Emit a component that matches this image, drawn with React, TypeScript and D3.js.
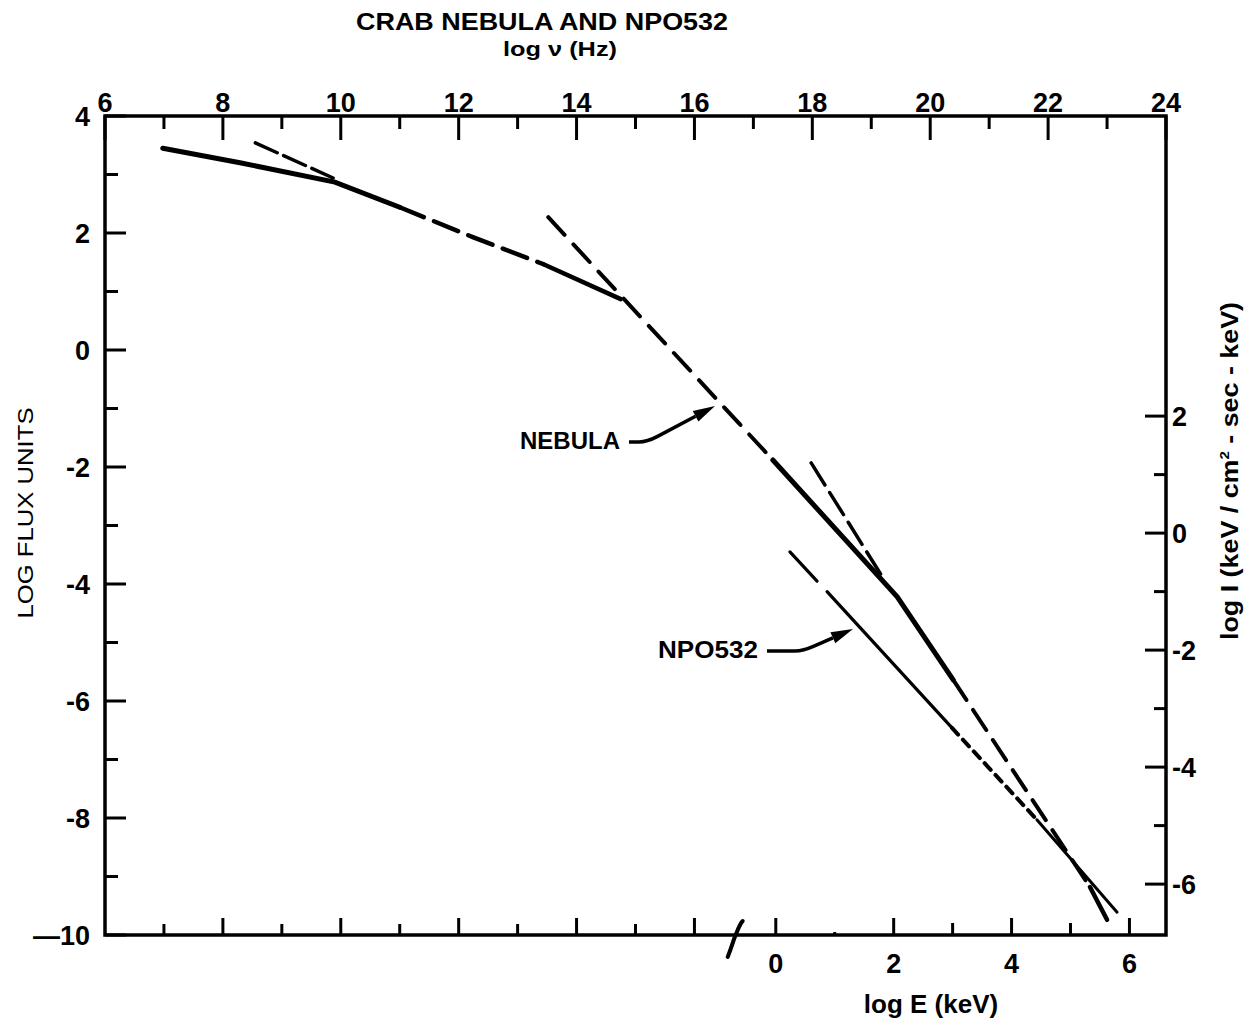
import React from 'react';
import * as d3 from 'd3';

// log nu (Hz) vs log flux units
const radioTangent = [[8.55, 3.54], [9.87, 2.94]];
const opticalSolidA = [[6.98, 3.45], [8.29, 3.2], [9.9, 2.87], [11.0, 2.44]];
const opticalDashed = [[11.0, 2.44], [12.24, 1.93], [13.43, 1.47]];
const opticalSolidB = [[13.43, 1.47], [14.75, 0.87]];
const nebulaUvDashed = [[13.52, 2.27], [17.33, -1.88]];
const nebulaXraySolid = [[17.33, -1.88], [19.44, -4.22], [20.39, -5.64]];
const nebulaGammaDashed = [[20.39, -5.64], [22.71, -9.18]];
const nebulaGammaSolid = [[22.71, -9.18], [23.0, -9.74]];
const nebulaXrayTangent = [[17.98, -1.93], [19.22, -3.93]];
const pulsarSolidA = [[17.62, -3.45], [18.08, -3.95]];
const pulsarSolidB = [[18.25, -4.13], [20.37, -6.46]];
const pulsarDotted = [[20.37, -6.46], [21.81, -8.03]];
const pulsarSolidC = [[21.81, -8.03], [23.17, -9.61]];

const topTicks = d3.range(6, 25, 1);
const leftTicks = d3.range(-10, 5, 1);
const rightTicks = d3.range(-6, 3, 1);
const bottomNuTicks = d3.range(7, 17, 1);
const bottomETicks = d3.range(0, 7, 1);

const KEV_LOG_HZ = 17.38; // log nu of 1 keV
const FLUX_TO_I = 3.13; // log I = log flux + this
const AXIS_BREAK = 16.7; // log nu where the bottom axis is broken

const W = 1251;
const H = 1029;
const FONT = '"Liberation Sans Narrow", "Liberation Sans", Arial, sans-serif';

const x = d3.scaleLinear().domain([6, 24]).range([105, 1166]);
const y = d3.scaleLinear().domain([-10, 4]).range([935, 116]);
const xE = d3.scaleLinear().domain([6 - KEV_LOG_HZ, 24 - KEV_LOG_HZ]).range([105, 1166]);
const yI = d3.scaleLinear().domain([-10 + FLUX_TO_I, 4 + FLUX_TO_I]).range([935, 116]);

const line = d3
  .line<number[]>()
  .x((d) => x(d[0]))
  .y((d) => y(d[1]));

const Arrow = ({ tail, elbow, tip }) => {
  const ang = Math.atan2(tip[1] - elbow[1], tip[0] - elbow[0]);
  const len = 22;
  const half = 6;
  const bx = tip[0] - len * Math.cos(ang);
  const by = tip[1] - len * Math.sin(ang);
  const p1 = [bx + half * Math.sin(ang), by - half * Math.cos(ang)];
  const p2 = [bx - half * Math.sin(ang), by + half * Math.cos(ang)];
  const mx = elbow[0] + 12 * Math.cos(ang);
  const my = elbow[1] + 12 * Math.sin(ang);
  return (
    <g>
      <path
        d={`M${tail[0]},${tail[1]} L${elbow[0] - 8},${elbow[1]} Q${elbow[0]},${elbow[1]} ${mx},${my} L${bx},${by}`}
        fill="none"
        stroke="#000"
        strokeWidth={3.5}
      />
      <path d={`M${tip[0]},${tip[1]} L${p1[0]},${p1[1]} L${p2[0]},${p2[1]} Z`} fill="#000" />
    </g>
  );
};

export default function App() {
  const series = [
    { d: radioTangent, w: 3.5, dash: '24 7' },
    { d: opticalSolidA, w: 5, dash: null },
    { d: opticalDashed, w: 4.5, dash: '26 11' },
    { d: opticalSolidB, w: 4.5, dash: null },
    { d: nebulaUvDashed, w: 4, dash: '24 13' },
    { d: nebulaXraySolid, w: 5, dash: null },
    { d: nebulaGammaDashed, w: 4, dash: '24 12' },
    { d: nebulaGammaSolid, w: 4.5, dash: null },
    { d: nebulaXrayTangent, w: 3.5, dash: '26 9' },
    { d: pulsarSolidA, w: 3.2, dash: null },
    { d: pulsarSolidB, w: 3.2, dash: null },
    { d: pulsarDotted, w: 4, dash: '9 7' },
    { d: pulsarSolidC, w: 3, dash: null },
  ];

  const x0 = x(6);
  const x1 = x(24);
  const y0 = y(-10);
  const y1 = y(4);
  const bx = x(AXIS_BREAK);

  const tickStyle = { stroke: '#000', strokeWidth: 3 };
  const labelStyle = { fontFamily: FONT, fontWeight: 700, fontSize: 27, fill: '#000' };

  return (
    <svg width={W} height={H} style={{ position: 'absolute', left: 0, top: 0, background: '#fff' }}>
      <rect width={W} height={H} fill="#fff" />

      {/* titles */}
      <text x={542} y={30} textAnchor="middle" textLength={372} lengthAdjust="spacingAndGlyphs" style={{ ...labelStyle, fontSize: 23 }}>
        CRAB NEBULA AND NPO532
      </text>
      <text x={560} y={56} textAnchor="middle" textLength={114} lengthAdjust="spacingAndGlyphs" style={{ ...labelStyle, fontSize: 21 }}>
        log ν (Hz)
      </text>

      {/* frame */}
      <path d={`M${x0},${y1} H${x1} V${y0} H${x0} Z`} fill="none" stroke="#000" strokeWidth={3.5} />

      {/* top axis */}
      {topTicks.map((t) => (
        <line key={'t' + t} x1={x(t)} x2={x(t)} y1={y1} y2={y1 + (t % 2 === 0 ? 24 : 13)} {...tickStyle} />
      ))}
      {topTicks
        .filter((t) => t % 2 === 0)
        .map((t) => (
          <text key={'tl' + t} x={x(t)} y={y1 - 4} textAnchor="middle" style={labelStyle}>
            {t}
          </text>
        ))}

      {/* left axis */}
      {leftTicks.map((t) => (
        <line key={'l' + t} x1={x0} x2={x0 + (t % 2 === 0 ? 21 : 13)} y1={y(t)} y2={y(t)} {...tickStyle} />
      ))}
      {leftTicks
        .filter((t) => t % 2 === 0)
        .map((t) => (
          <text key={'ll' + t} x={90} y={y(t)} dy="0.36em" textAnchor="end" style={labelStyle}>
            {t === -10 ? '\u201410' : String(t)}
          </text>
        ))}
      <text
        transform={`translate(33,${513}) rotate(-90)`}
        textAnchor="middle"
        textLength={211}
        lengthAdjust="spacingAndGlyphs"
        style={{ ...labelStyle, fontWeight: 400, fontSize: 22 }}
      >
        LOG FLUX UNITS
      </text>

      {/* right axis */}
      {rightTicks.map((t) => (
        <line key={'r' + t} x1={x1} x2={x1 - (t % 2 === 0 ? 21 : 12)} y1={yI(t)} y2={yI(t)} {...tickStyle} />
      ))}
      {rightTicks
        .filter((t) => t % 2 === 0)
        .map((t) => (
          <text key={'rl' + t} x={x1 + 6} y={yI(t)} dy="0.36em" textAnchor="start" style={labelStyle}>
            {t < 0 ? '-' + Math.abs(t) : String(t)}
          </text>
        ))}
      <text transform={`translate(1238,${471}) rotate(-90)`} textAnchor="middle" textLength={338} lengthAdjust="spacingAndGlyphs" style={{ ...labelStyle, fontSize: 23 }}>
        log I (keV / cm<tspan dy="-9" fontSize={13}>2</tspan>
        <tspan dy="9"> - sec - keV)</tspan>
      </text>

      {/* bottom axis */}
      {bottomNuTicks.map((t) => (
        <line key={'b' + t} x1={x(t)} x2={x(t)} y1={y0} y2={y0 - (t % 2 === 0 ? 17 : 11)} {...tickStyle} />
      ))}
      {bottomETicks.map((t) => (
        <line key={'e' + t} x1={xE(t)} x2={xE(t)} y1={y0} y2={y0 - (t === 1 ? 3 : t % 2 === 0 ? 17 : 12)} {...tickStyle} />
      ))}
      {bottomETicks
        .filter((t) => t % 2 === 0)
        .map((t) => (
          <text key={'el' + t} x={xE(t)} y={y0 + 38} textAnchor="middle" style={labelStyle}>
            {t}
          </text>
        ))}
      <path
        d={`M${bx - 8},${y0 + 22} C${bx - 4},${y0 + 12} ${bx - 2},${y0 + 4} ${bx},${y0} C${bx + 2},${y0 - 5} ${bx + 4},${y0 - 11} ${bx + 7},${y0 - 14}`}
        fill="none"
        stroke="#000"
        strokeWidth={4}
        strokeLinecap="round"
      />
      <text x={931} y={1013} textAnchor="middle" style={{ ...labelStyle, fontSize: 26 }}>
        log E (keV)
      </text>

      {/* spectra */}
      {series.map((s, i) => (
        <path
          key={'s' + i}
          d={line(s.d) || ''}
          fill="none"
          stroke="#000"
          strokeWidth={s.w}
          strokeDasharray={s.dash || undefined}
          strokeLinecap="round"
        />
      ))}

      {/* annotations */}
      <text x={620} y={441} dy="0.36em" textAnchor="end" textLength={100} lengthAdjust="spacingAndGlyphs" style={{ ...labelStyle, fontSize: 23 }}>
        NEBULA
      </text>
      <Arrow tail={[629, 442]} elbow={[647, 442]} tip={[715, 406]} />
      <text x={758} y={650} dy="0.36em" textAnchor="end" textLength={100} lengthAdjust="spacingAndGlyphs" style={{ ...labelStyle, fontSize: 23 }}>
        NPO532
      </text>
      <Arrow tail={[767, 651]} elbow={[803, 651]} tip={[853, 629]} />
    </svg>
  );
}
